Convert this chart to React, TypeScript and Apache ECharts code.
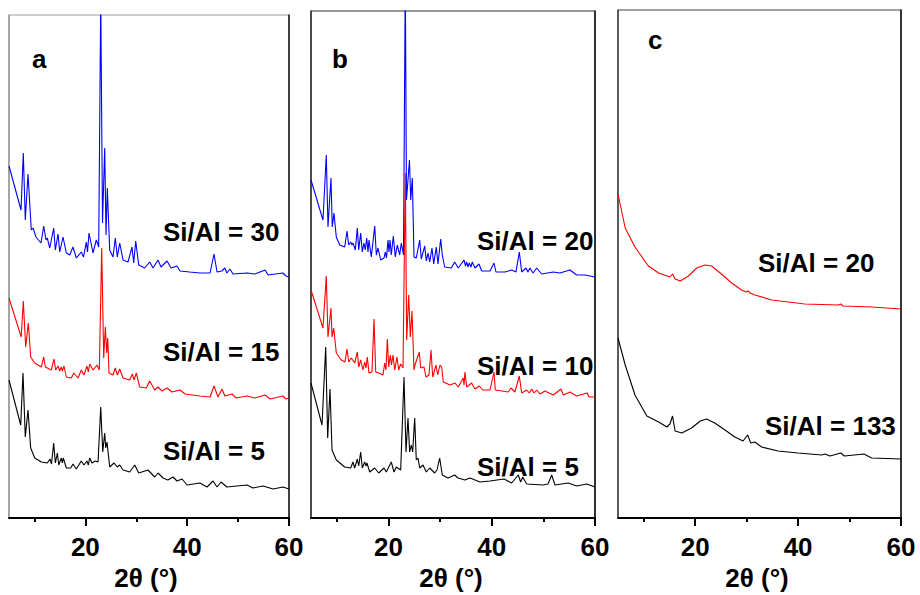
import React, { useEffect, useRef } from "react";
import * as echarts from "echarts";

// ---- Data (2θ in degrees, intensity in arbitrary offset units) ----
const majorTicks = [20, 40, 60];
const minorTicks = [10, 30, 50];
const xLabels = [20, 40, 60];

const aSi30: number[][] = [
  [5, 352], [7.36, 308], [7.81, 365], [8.2, 298], [8.73, 344], [9.38, 288], [9.72, 290], [10.3, 281],
  [11.29, 275], [11.82, 292], [12.27, 278], [12.52, 280], [13.0, 270], [13.78, 290], [14.1, 268],
  [14.63, 284], [14.96, 266], [15.61, 281], [16.26, 265], [16.93, 263], [17.57, 271], [18.22, 260],
  [19.2, 266], [19.64, 261], [20.19, 276], [20.42, 266], [20.72, 285], [21.5, 265], [22.15, 278],
  [22.62, 271], [23.02, 520], [23.37, 295], [23.8, 370], [24.06, 283], [24.31, 330], [24.78, 268],
  [25.43, 261], [25.88, 280], [26.28, 261], [26.75, 275], [27.4, 258], [28.38, 256], [29.16, 271],
  [29.5, 255], [29.89, 277], [30.48, 253], [31.66, 250], [32.64, 256], [33.29, 250], [34.27, 258],
  [34.86, 251], [36.04, 257], [36.83, 250], [38.0, 252], [38.6, 247], [40.5, 246], [42.5, 245],
  [44.5, 245], [45.27, 264], [45.86, 246], [46.8, 247], [47.4, 250], [47.8, 245], [48.4, 249],
  [49.0, 244], [51.76, 245], [53.3, 244], [55.3, 248], [55.9, 243], [58.8, 245], [59.4, 242], [60, 241],
];
const aSi15: number[][] = [
  [5, 220], [7.4, 181], [7.81, 217], [8.28, 171], [8.79, 195], [9.26, 161], [10.05, 155], [11.35, 151],
  [11.82, 161], [12.13, 151], [13.3, 148], [13.84, 159], [14.17, 148], [14.63, 152], [14.96, 147],
  [15.27, 151], [15.5, 147], [15.8, 152], [16.26, 141], [17.24, 140], [17.71, 145], [18.56, 140],
  [19.2, 148], [19.73, 143], [20.32, 152], [20.58, 146], [20.85, 154], [21.5, 148], [22.29, 153],
  [22.74, 148], [23.21, 270], [23.6, 160], [23.92, 191], [24.19, 165], [24.39, 180], [24.65, 145],
  [25.43, 143], [25.88, 150], [26.28, 143], [26.75, 149], [27.4, 140], [28.71, 138], [29.22, 144],
  [29.56, 138], [30.0, 145], [30.68, 131], [31.97, 130], [32.64, 137], [33.62, 128], [34.27, 131],
  [35.06, 127], [36.04, 130], [37.0, 126], [38.6, 128], [39.58, 124], [42.5, 122], [44.5, 121],
  [45.27, 132], [46.06, 121], [46.85, 129], [47.4, 122], [48.8, 124], [49.6, 120], [51.76, 122],
  [53.3, 120], [55.3, 123], [56.3, 119], [58.8, 122], [59.4, 119], [60, 120],
];
const aSi5: number[][] = [
  [5, 138], [7.3, 93], [7.75, 145], [8.2, 81], [8.73, 108], [9.26, 70], [10.05, 60], [11.35, 56],
  [12.52, 55], [13.05, 59], [13.35, 54], [13.78, 75], [14.1, 55], [14.5, 65], [14.77, 53], [15.27, 60],
  [15.47, 55], [15.67, 60], [16.26, 50], [17.12, 50], [17.57, 54], [18.22, 49], [19.2, 57], [19.73, 53],
  [20.32, 57], [20.58, 53], [20.85, 60], [21.3, 55], [21.95, 57], [22.49, 56], [23.02, 111], [23.41, 66],
  [23.8, 85], [24.0, 70], [24.25, 76], [24.78, 51], [25.63, 55], [26.28, 51], [26.75, 53], [27.4, 48],
  [28.71, 46], [29.7, 53], [30.48, 45], [32.3, 48], [33.62, 41], [34.27, 45], [35.26, 40], [36.2, 38],
  [37.2, 41], [38.0, 37], [39.0, 39], [39.97, 33], [42.5, 35], [43.9, 31], [45.08, 37], [45.86, 31],
  [46.65, 36], [47.8, 31], [51.76, 33], [52.9, 30], [54.9, 32], [56.9, 29], [58.8, 31], [60, 29],
];

const bSi20: number[][] = [
  [5, 338], [7.32, 298], [7.96, 363], [8.29, 291], [8.87, 340], [9.12, 291], [9.45, 305], [9.9, 281],
  [10.56, 273], [11.53, 271], [11.97, 287], [12.3, 273], [12.69, 276], [12.94, 273], [13.13, 275],
  [13.58, 268], [13.97, 290], [14.24, 268], [14.62, 285], [14.93, 266], [15.26, 275], [15.51, 268],
  [15.79, 280], [16.04, 266], [16.23, 278], [16.68, 261], [17.34, 292], [17.65, 263], [17.97, 270],
  [18.5, 258], [19.14, 260], [19.39, 266], [19.62, 260], [19.91, 278], [20.1, 266], [20.3, 278],
  [20.55, 263], [20.94, 282], [21.32, 261], [21.71, 273], [22.18, 263], [22.49, 275], [22.91, 263],
  [23.26, 540], [23.49, 318], [24.07, 358], [24.31, 318], [24.62, 340], [24.95, 261], [25.39, 260],
  [26.05, 278], [26.36, 259], [27.02, 272], [27.33, 257], [27.66, 265], [27.99, 256], [28.43, 270],
  [28.76, 254], [29.26, 271], [29.59, 254], [30.12, 279], [30.43, 263], [30.89, 251], [32.17, 250],
  [32.83, 256], [33.52, 250], [34.63, 258], [34.92, 252], [35.15, 256], [35.4, 251], [35.66, 255],
  [35.98, 251], [36.24, 256], [36.76, 250], [37.53, 254], [38.06, 247], [39.66, 247], [40.44, 255],
  [40.82, 246], [42.57, 246], [43.86, 248], [44.7, 246], [45.34, 266], [45.8, 246], [46.63, 250],
  [47.0, 246], [47.4, 250], [47.99, 245], [48.71, 250], [49.67, 244], [51.92, 246], [53.2, 245],
  [55.15, 248], [56.45, 243], [58.06, 243], [60, 241],
];
const bSi10: number[][] = [
  [5, 228], [7.32, 190], [7.96, 242], [8.29, 181], [8.87, 210], [9.07, 181], [9.4, 190], [9.9, 165],
  [10.87, 158], [11.58, 156], [11.97, 169], [12.3, 156], [12.8, 160], [13.46, 155], [13.97, 166],
  [14.24, 151], [14.62, 158], [15.07, 148], [15.4, 156], [15.65, 150], [15.9, 161], [16.23, 145],
  [16.81, 146], [17.2, 199], [17.53, 146], [18.11, 145], [18.94, 143], [19.27, 155], [19.52, 148],
  [19.78, 179], [20.05, 151], [20.36, 163], [20.59, 153], [20.88, 163], [21.21, 148], [21.65, 161],
  [21.98, 148], [22.37, 154], [22.82, 150], [23.26, 345], [23.53, 178], [23.92, 223], [24.23, 181],
  [24.56, 207], [24.95, 148], [25.14, 153], [25.97, 166], [26.24, 150], [26.88, 151], [27.27, 141],
  [27.85, 143], [28.24, 168], [28.57, 141], [29.21, 153], [29.54, 143], [29.98, 153], [30.31, 151],
  [30.62, 136], [31.92, 133], [32.89, 135], [33.52, 131], [34.49, 140], [34.63, 133], [34.82, 146],
  [35.15, 131], [36.12, 135], [36.76, 129], [37.59, 132], [38.25, 128], [39.66, 128], [40.44, 146],
  [40.69, 128], [43.2, 126], [43.73, 130], [44.5, 126], [45.34, 142], [45.8, 125], [46.77, 128],
  [47.27, 125], [47.74, 129], [48.18, 125], [48.71, 128], [49.35, 124], [50.31, 127], [51.92, 123],
  [53.41, 129], [53.86, 123], [55.15, 126], [56.45, 122], [58.5, 125], [58.83, 121], [60, 121],
];
const bSi5: number[][] = [
  [5, 135], [7.13, 93], [7.85, 171], [8.23, 80], [8.68, 129], [9.07, 68], [9.9, 58], [11.53, 51],
  [12.69, 50], [13.13, 56], [13.46, 50], [13.97, 59], [14.24, 52], [14.62, 66], [14.93, 50], [15.4, 56],
  [15.65, 52], [15.84, 55], [16.37, 46], [17.34, 50], [18.11, 45], [19.14, 50], [19.58, 46], [20.55, 56],
  [21.07, 46], [21.52, 51], [22.37, 48], [23.01, 141], [23.4, 66], [23.78, 100], [24.11, 66], [24.42, 73],
  [24.69, 66], [25.08, 100], [25.39, 58], [25.72, 60], [26.05, 50], [26.69, 53], [27.33, 46], [27.99, 50],
  [28.95, 45], [29.4, 48], [29.92, 60], [30.43, 43], [31.53, 40], [32.83, 43], [33.47, 40], [34.82, 38],
  [35.79, 40], [37.73, 36], [39.66, 37], [42.37, 39], [43.87, 35], [45.14, 43], [45.6, 36], [45.99, 41],
  [46.77, 34], [49.98, 33], [50.9, 34], [51.61, 43], [52.25, 33], [54.83, 35], [56.45, 32], [58.39, 34],
  [60, 31],
];

const cSi20: number[][] = [
  [5, 324], [6.4, 290], [8.3, 271], [10.9, 252], [12.9, 245], [15.1, 241], [15.6, 244], [16.1, 239],
  [17.1, 237], [18.7, 242], [20.3, 250], [21.9, 253], [23.2, 252], [25.1, 244], [27.1, 235], [29.0, 228],
  [29.9, 226], [30.3, 227], [30.7, 225], [31.6, 223], [34.9, 218], [38.1, 216], [41.3, 214], [47.8, 213],
  [48.3, 214], [48.7, 212], [54.3, 211], [60, 209],
];
const cSi133: number[][] = [
  [5, 180], [6.4, 153], [8.3, 123], [10.6, 102], [12.9, 96], [14.5, 91], [15.1, 94], [15.6, 102],
  [16.1, 87], [17.4, 85], [19.3, 90], [21.0, 97], [22.2, 99], [23.8, 95], [25.8, 88], [27.7, 81],
  [29.3, 77], [30.2, 83], [30.8, 75], [31.6, 76], [32.9, 71], [36.1, 67], [40.0, 65], [44.6, 63],
  [45.2, 64], [46.2, 62], [48.3, 65], [49.0, 62], [52.8, 64], [54.3, 60], [60, 59],
];

const FONT = '"Liberation Sans", Arial, Helvetica, sans-serif';

export default function App() {
  const ref = useRef<HTMLDivElement>(null);

  useEffect(() => {
    if (!ref.current) return;
    const chart = echarts.init(ref.current, undefined, { renderer: "svg" });

    const grids = [
      { left: 9, top: 15, width: 280, height: 503, border: "#999" },
      { left: 311, top: 11, width: 284, height: 507, border: "#333" },
      { left: 618, top: 10, width: 283, height: 508, border: "#444" },
    ];

    const xAxes: any[] = [];
    grids.forEach((g, i) => {
      xAxes.push({
        gridIndex: i,
        type: "value",
        min: 5,
        max: 60,
        axisLine: { show: true, onZero: false, lineStyle: { color: "#000", width: 2 } },
        axisTick: {
          show: true,
          inside: false,
          length: 8,
          customValues: majorTicks,
          lineStyle: { color: "#000", width: 2 },
        },
        axisLabel: {
          customValues: xLabels,
          fontSize: 26,
          fontWeight: "bold",
          fontFamily: FONT,
          color: "#000",
          margin: 16,
        },
        splitLine: { show: false },
      });
    });
    // minor tick axes (no line, no labels)
    grids.forEach((g, i) => {
      xAxes.push({
        gridIndex: i,
        type: "value",
        position: "bottom",
        min: 5,
        max: 60,
        axisLine: { show: false, onZero: false },
        axisTick: {
          show: true,
          inside: false,
          length: 4,
          customValues: minorTicks,
          lineStyle: { color: "#000", width: 2 },
        },
        axisLabel: { show: false },
        splitLine: { show: false },
      });
    });

    const yAxes: any[] = [];
    grids.forEach((g, i) => {
      yAxes.push({
        gridIndex: i,
        type: "value",
        min: 0,
        max: g.height,
        axisLine: { show: true, lineStyle: { color: g.border, width: 1.5 } },
        axisTick: { show: false },
        axisLabel: { show: false },
        splitLine: { show: false },
      });
      yAxes.push({
        gridIndex: i,
        type: "value",
        position: "right",
        min: 0,
        max: g.height,
        axisLine: { show: true, lineStyle: { color: "#111", width: 1.5 } },
        axisTick: { show: false },
        axisLabel: { show: false },
        splitLine: { show: false },
      });
    });

    const mk = (data: number[][], gi: number, color: string, name: string) => ({
      name,
      type: "line",
      xAxisIndex: gi,
      yAxisIndex: gi * 2,
      data,
      symbol: "none",
      showSymbol: false,
      smooth: false,
      clip: true,
      silent: true,
      lineStyle: { color, width: 1.1 },
      itemStyle: { color },
    });

    const txt = (text: string, x: number, y: number, align = "left") => ({
      type: "text",
      x,
      y,
      silent: true,
      style: {
        text,
        font: `bold 26px ${FONT}`,
        fill: "#000",
        align,
        verticalAlign: "middle",
      },
    });

    chart.setOption({
      animation: false,
      backgroundColor: "#fff",
      grid: grids.map((g) => ({
        left: g.left,
        top: g.top,
        width: g.width,
        height: g.height,
        show: true,
        borderColor: g.border,
        borderWidth: 1,
        backgroundColor: "transparent",
        containLabel: false,
      })),
      xAxis: xAxes,
      yAxis: yAxes,
      series: [
        mk(aSi30, 0, "#0000ff", "a Si/Al = 30"),
        mk(aSi15, 0, "#ff0000", "a Si/Al = 15"),
        mk(aSi5, 0, "#000000", "a Si/Al = 5"),
        mk(bSi20, 1, "#0000ff", "b Si/Al = 20"),
        mk(bSi10, 1, "#ff0000", "b Si/Al = 10"),
        mk(bSi5, 1, "#000000", "b Si/Al = 5"),
        mk(cSi20, 2, "#ff0000", "c Si/Al = 20"),
        mk(cSi133, 2, "#000000", "c Si/Al = 133"),
      ],
      graphic: [
        txt("a", 32, 59),
        txt("b", 332, 59),
        txt("c", 648, 40),
        txt("Si/Al = 30", 163, 232),
        txt("Si/Al = 15", 163, 352),
        txt("Si/Al = 5", 163, 451),
        txt("Si/Al = 20", 477, 241),
        txt("Si/Al = 10", 477, 366),
        txt("Si/Al = 5", 477, 467),
        txt("Si/Al = 20", 758, 263),
        txt("Si/Al = 133", 765, 426),
        txt("2θ (°)", 146, 578, "center"),
        txt("2θ (°)", 451, 578, "center"),
        txt("2θ (°)", 757, 578, "center"),
      ],
    });

    return () => chart.dispose();
  }, []);

  return (
    <div
      ref={ref}
      style={{ position: "absolute", left: 0, top: 0, width: 920, height: 595, background: "#fff" }}
    />
  );
}
